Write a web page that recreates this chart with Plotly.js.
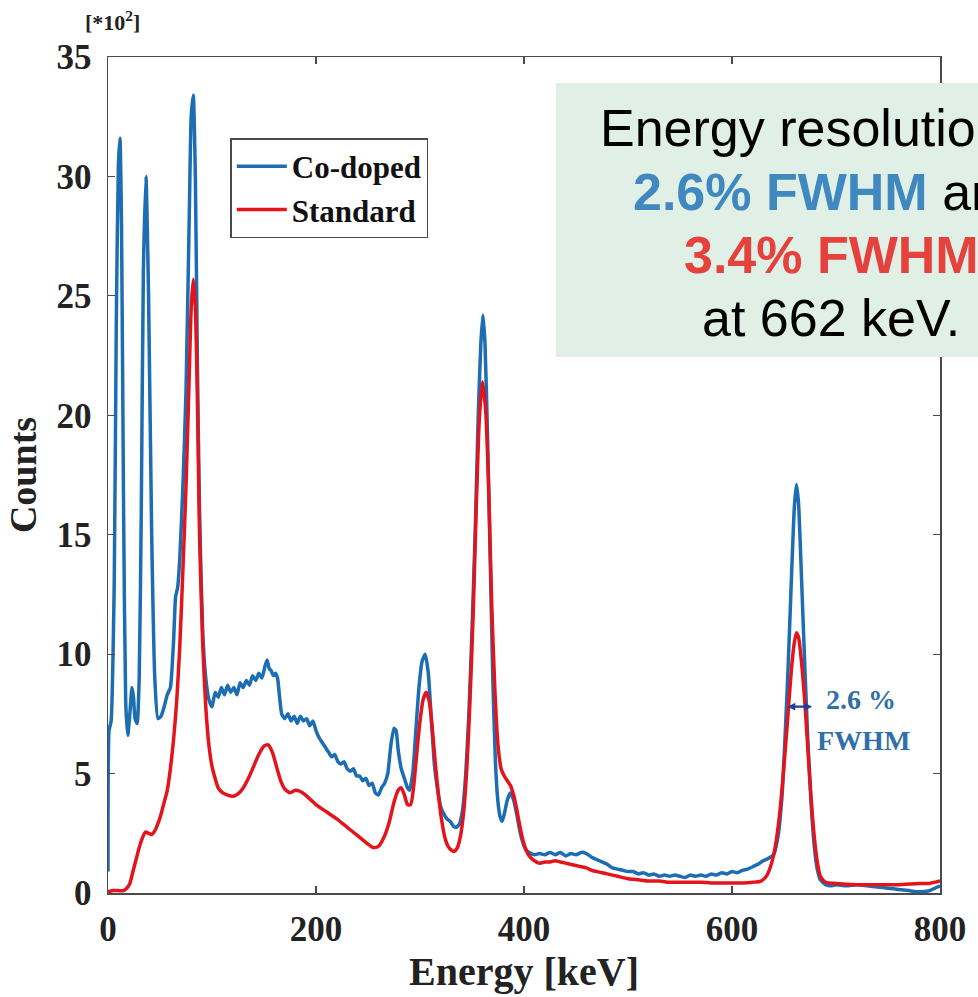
<!DOCTYPE html>
<html>
<head>
<meta charset="utf-8">
<script src="https://cdn.plot.ly/plotly-3.0.1.min.js"></script>
<style>html,body{margin:0;padding:0;background:#fff;}#chart{width:978px;height:997px;}</style>
</head>
<body>
<div id="chart"></div>
<script>
// Energy axis (keV) and counts (x100)
const coEnergy = [0,1,3,6,8,10,11.5,13,15,17,19,21,23,24.5,26,28,30,32,34,36.5,39,42,45,48,51,54,57,60,63,65,67,69,72,75,78,80,82,84,86,88,91,94,97,100,103,106,109,112,115,118,121,124,127,130,133,136,139,142,145,148,151,153,155,157,159,161,163,165,167,170,173,176,179,182,185,188,191,194,197,200,203,206,209,212,215,218,221,224,227,230,233,236,239,242,245,248,251,254,257,260,263,266,269,272,275,277,279,282,285,288,290,293,296,299,302,305,308,311,314,317,320,323,326,329,332,335,338,341,344,347,350,353,356,358.5,360.5,362.5,365,367.5,370,372.5,375,377,379,381,384,387,390,393,396,399,402,405,410,415,420,425,430,435,440,445,450,455,460,465,470,475,480,485,490,495,500,505,510,515,520,525,530,535,540,545,550,555,560,565,570,575,580,585,590,595,600,605,610,615,620,625,630,635,640,644,648,651,654,657,660,662,664,667,670,673,676,679,682,685,690,695,700,710,720,730,740,750,760,770,780,790,795,800];
const coCounts = [0.9,6.8,7.2,13,24,30.5,31.6,28,16,8,6.6,7.5,8.6,8.2,7.3,7.1,9,16,26,30.0,25,15,9,7.3,7.4,7.8,8.3,8.6,10.5,12.4,12.8,14,17,21,28,32.5,33.4,30,22,16,11,9,8.1,7.8,8.4,8.2,8.6,8.3,8.7,8.4,8.6,8.3,8.8,8.6,8.9,8.7,9.1,8.9,9.2,9.0,9.5,9.75,9.4,9.3,9.1,9.2,9.0,8.2,7.5,7.3,7.5,7.2,7.4,7.1,7.4,7.2,7.3,7.0,7.2,6.8,6.5,6.3,6.1,5.9,5.7,5.8,5.5,5.4,5.5,5.2,5.1,5.2,4.9,4.9,4.7,4.8,4.5,4.6,4.2,4.1,4.4,4.6,5.0,6.2,6.9,6.8,6.0,5.2,4.8,4.4,4.3,5.0,6.8,8.6,9.7,10.0,9.2,7.2,5.3,4.3,3.6,3.3,3.1,3.0,2.8,2.75,2.9,3.5,5.0,7.5,11,15,20,23,24.2,23,19,14,9,5.5,3.8,3.2,3.0,3.3,3.9,4.2,3.9,3.3,2.6,2.1,1.8,1.7,1.6,1.65,1.6,1.7,1.6,1.7,1.55,1.65,1.6,1.7,1.65,1.5,1.4,1.3,1.2,1.05,1.0,0.95,0.9,0.9,0.8,0.85,0.75,0.8,0.7,0.75,0.7,0.75,0.7,0.65,0.75,0.7,0.75,0.7,0.8,0.75,0.85,0.8,0.9,0.85,0.95,1.0,1.1,1.2,1.35,1.45,1.6,2.3,4.0,6.5,9.5,13,16.2,17.1,16.3,13,9.5,6.3,3.8,2.0,1.0,0.55,0.35,0.3,0.35,0.3,0.35,0.3,0.25,0.2,0.15,0.1,0.05,0.1,0.2,0.3];

const stdEnergy = [0,5,10,15,18,21,24,27,30,33,36,39,42,45,48,51,54,57,60,63,66,69,72,75,78,80,82,84,86,88,91,94,97,100,103,106,110,115,120,125,130,135,140,145,150,154,158,162,166,170,175,180,185,190,195,200,210,220,230,240,250,255,260,265,270,275,279,282,285,288,291,294,297,300,303,306,309,312,315,318,321,324,327,330,333,336,339,342,345,348,351,354,357,360,363,366,369,372,375,378,381,384,387,390,393,396,399,402,405,410,415,420,425,430,435,440,445,450,455,460,465,470,475,480,490,500,510,520,530,540,550,560,570,580,590,600,610,620,628,633,637,641,645,649,653,657,660,662,664,667,670,673,676,679,682,685,690,700,720,740,760,780,790,800];
const stdCounts = [0.05,0.1,0.1,0.1,0.2,0.4,0.9,1.4,1.9,2.3,2.55,2.5,2.45,2.6,2.9,3.3,3.8,4.3,5.2,6.4,8.0,10.3,13.5,17,21.5,24.5,25.7,24.5,20.5,15,10.5,7.8,6.2,5.3,4.8,4.4,4.2,4.1,4.05,4.15,4.4,4.8,5.3,5.8,6.15,6.2,5.9,5.3,4.7,4.35,4.2,4.3,4.25,4.1,3.9,3.7,3.4,3.1,2.75,2.4,2.05,1.9,1.95,2.3,2.9,3.8,4.3,4.4,4.1,3.7,3.7,4.5,5.9,7.2,8.1,8.4,8.0,6.8,5.3,4.0,3.0,2.3,1.95,1.8,1.75,1.9,2.4,3.4,5.2,8,11.5,16,19.8,21.4,20.3,17,12,8.5,6.2,5.2,4.9,4.7,4.5,4.1,3.5,2.8,2.2,1.8,1.55,1.35,1.25,1.3,1.3,1.35,1.3,1.25,1.2,1.15,1.1,1.05,0.95,0.9,0.85,0.8,0.7,0.6,0.55,0.5,0.5,0.45,0.45,0.45,0.45,0.42,0.42,0.42,0.42,0.45,0.5,0.7,1.1,1.8,3.0,4.8,7.0,9.3,10.5,10.9,10.7,9.6,8.0,6.0,4.0,2.4,1.3,0.7,0.45,0.4,0.35,0.35,0.35,0.4,0.4,0.5];

const seriesNames = ["Co-doped", "Standard"];
const xTicks = [0, 200, 400, 600, 800];
const yTicks = [0, 5, 10, 15, 20, 25, 30, 35];

const serif = "Liberation Serif, Times New Roman, serif";
const sans = "Liberation Sans, Arial, sans-serif";
const blue = "#1c6db3";
const red = "#e3141c";
const frame = "#4a4a4a";

const traces = [
  {x: coEnergy, y: coCounts, name: seriesNames[0], type: "scatter", mode: "lines",
   line: {color: blue, width: 3.5, shape: "spline", smoothing: 0.5}},
  {x: stdEnergy, y: stdCounts, name: seriesNames[1], type: "scatter", mode: "lines",
   line: {color: red, width: 3.5, shape: "spline", smoothing: 0.6}}
];

const axisCommon = {
  showline: true, linecolor: frame, linewidth: 1.5, mirror: "ticks",
  ticks: "inside", ticklen: 7, tickwidth: 1.2, tickcolor: frame,
  showgrid: false, zeroline: false,
  tickfont: {family: serif, size: 35, color: "#222", weight: "bold"}
};

const layout = {
  width: 978, height: 997,
  margin: {l: 108, r: 38, t: 57, b: 104},
  paper_bgcolor: "#ffffff", plot_bgcolor: "#ffffff",
  showlegend: true,
  legend: {
    x: 0.147, y: 0.903, xanchor: "left", yanchor: "top",
    bgcolor: "#ffffff", bordercolor: frame, borderwidth: 1.5,
    font: {family: serif, size: 31, color: "#111", weight: "bold"},
    tracegroupgap: 0, itemwidth: 50
  },
  xaxis: Object.assign({}, axisCommon, {
    range: [0, 800], tickvals: xTicks, ticktext: xTicks.map(String),
    ticklabelstandoff: 4,
    title: {text: "Energy [keV]", font: {family: serif, size: 40, color: "#222", weight: "bold"}, standoff: 8}
  }),
  yaxis: Object.assign({}, axisCommon, {
    range: [0, 35], tickvals: yTicks, ticktext: yTicks.map(String),
    ticklabelstandoff: 8,
    title: {text: "Counts", font: {family: serif, size: 38, color: "#222", weight: "bold"}, standoff: 8}
  }),
  shapes: [
    {type: "rect", xref: "paper", yref: "paper", x0: 0.5385, x1: 1.1, y0: 0.641, y1: 0.969,
     fillcolor: "#e1f0e6", line: {width: 0}, layer: "above"}
  ],
  annotations: [
    {xref: "paper", yref: "paper", x: 0.006, y: 1.043, xanchor: "center", yanchor: "middle",
     text: "[*10<sup>2</sup>]", showarrow: false, font: {family: serif, size: 22, color: "#222", weight: "bold"}},
    {xref: "paper", yref: "paper", x: 0.869, y: 0.915, xanchor: "center", yanchor: "middle",
     text: "Energy resolution of", showarrow: false, font: {family: sans, size: 52, color: "#000"}},
    {xref: "paper", yref: "paper", x: 0.869, y: 0.8385, xanchor: "center", yanchor: "middle",
     text: "<b><span style='color:#3f88c0'>2.6% FWHM</span></b> and", showarrow: false, font: {family: sans, size: 52, color: "#000"}},
    {xref: "paper", yref: "paper", x: 0.869, y: 0.763, xanchor: "center", yanchor: "middle",
     text: "<b>3.4% FWHM</b>", showarrow: false, font: {family: sans, size: 52, color: "#e5413d"}},
    {xref: "paper", yref: "paper", x: 0.869, y: 0.688, xanchor: "center", yanchor: "middle",
     text: "at 662 keV.", showarrow: false, font: {family: sans, size: 52, color: "#000"}},
    {xref: "x", yref: "y", x: 724, y: 8.1, xanchor: "center", yanchor: "middle",
     text: "2.6 %", showarrow: false, font: {family: serif, size: 28, color: "#2f70a8", weight: "bold"}},
    {xref: "x", yref: "y", x: 726, y: 6.4, xanchor: "center", yanchor: "middle",
     text: "FWHM", showarrow: false, font: {family: serif, size: 28, color: "#2f70a8", weight: "bold"}},
    {xref: "x", yref: "y", x: 677, y: 7.8, ax: 652, ay: 7.8, axref: "x", ayref: "y",
     text: "", showarrow: true, arrowside: "end+start", arrowhead: 2, arrowsize: 0.7,
     arrowwidth: 2.2, arrowcolor: "#1a3f9e", standoff: 0, startstandoff: 0}
  ]
};

Plotly.newPlot("chart", traces, layout, {displayModeBar: false, staticPlot: true});
</script>
</body>
</html>
